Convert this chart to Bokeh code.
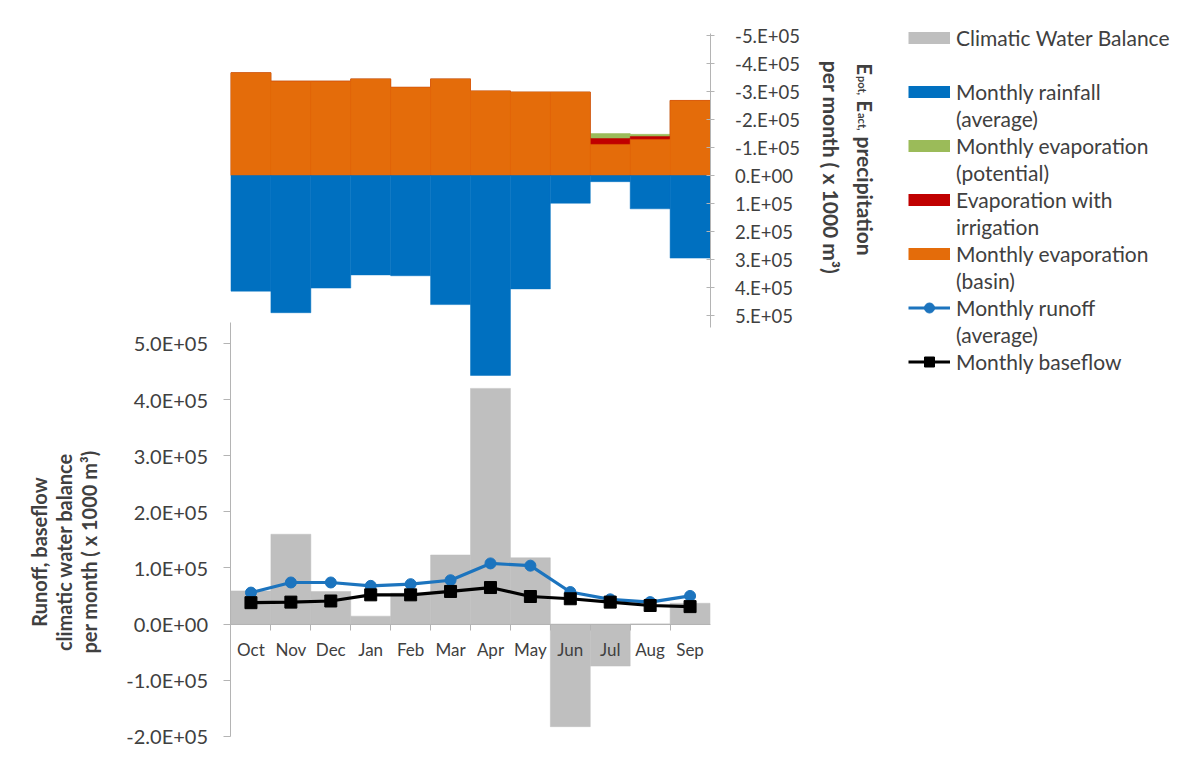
import math
from bokeh.plotting import figure
from bokeh.models import Range1d, LinearAxis, FixedTicker, Legend, LegendItem, Label
from bokeh.embed import file_html
from bokeh.resources import INLINE

# ---------------- data (x 1000 m3) ----------------
months = ["Oct", "Nov", "Dec", "Jan", "Feb", "Mar", "Apr", "May", "Jun", "Jul", "Aug", "Sep"]

# upper chart (precipitation downward, evaporation upward / negative)
rainfall = [4.13e5, 4.90e5, 4.02e5, 3.55e5, 3.58e5, 4.61e5, 7.14e5, 4.05e5, 0.99e5, 0.22e5, 1.19e5, 2.95e5]
evap_basin = [3.67e5, 3.37e5, 3.37e5, 3.45e5, 3.15e5, 3.45e5, 3.02e5, 2.98e5, 2.98e5, 1.11e5, 1.29e5, 2.68e5]
evap_irrigation = [3.67e5, 3.37e5, 3.37e5, 3.45e5, 3.15e5, 3.45e5, 3.02e5, 2.98e5, 2.98e5, 1.32e5, 1.39e5, 2.68e5]
evap_potential = [3.67e5, 3.37e5, 3.37e5, 3.45e5, 3.15e5, 3.45e5, 3.02e5, 2.98e5, 2.98e5, 1.50e5, 1.47e5, 2.68e5]

# lower chart
water_balance = [0.59e5, 1.60e5, 0.58e5, 0.14e5, 0.55e5, 1.23e5, 4.20e5, 1.18e5, -1.83e5, -0.75e5, 0.0, 0.37e5]
runoff = [0.56e5, 0.74e5, 0.74e5, 0.68e5, 0.71e5, 0.78e5, 1.08e5, 1.04e5, 0.57e5, 0.44e5, 0.39e5, 0.50e5]
baseflow = [0.38e5, 0.39e5, 0.41e5, 0.52e5, 0.52e5, 0.58e5, 0.65e5, 0.49e5, 0.45e5, 0.39e5, 0.33e5, 0.31e5]

left_ticks = [-2e5, -1e5, 0, 1e5, 2e5, 3e5, 4e5, 5e5]
left_tick_labels = ["-2.0E+05", "-1.0E+05", "0.0E+00", "1.0E+05", "2.0E+05", "3.0E+05", "4.0E+05", "5.0E+05"]
right_ticks = [-5e5, -4e5, -3e5, -2e5, -1e5, 0, 1e5, 2e5, 3e5, 4e5, 5e5]
right_tick_labels = ["-5.E+05", "-4.E+05", "-3.E+05", "-2.E+05", "-1.E+05", "0.E+00",
                     "1.E+05", "2.E+05", "3.E+05", "4.E+05", "5.E+05"]

# ---------------- styling ----------------
FONT = "Lato"
TXT = "#404040"
AXC = "#B4B4B4"
C_GRAY = "#BFBFBF"
C_BLUE = "#0070C0"
C_GREEN = "#9BBB59"
C_RED = "#C00000"
C_ORANGE = "#E46C0A"
C_RUNOFF = "#1C74BE"

W, H = 1190, 755
n = len(months)
xc = [i + 0.5 for i in range(n)]
edges = [float(i) for i in range(1, n)]

# the plotting frame covers the whole canvas; axes are pinned inside it
p = figure(width=W, height=H,
           x_range=Range1d(-5.774, 24.036), y_range=Range1d(-2.344e5, 11.114e5),
           output_backend="svg", toolbar_location=None,
           min_border_left=0, min_border_right=0, min_border_top=0, min_border_bottom=0)
p.extra_y_ranges = {"top": Range1d(start=20.714e5, end=-6.25e5)}
p.outline_line_color = None
p.xgrid.visible = False
p.ygrid.visible = False

# ---- lower chart ----
r_cwb = p.vbar(x=xc, width=1, bottom=0, top=water_balance, fill_color=C_GRAY, line_color=C_GRAY, line_width=0.5)
r_run_l = p.line(xc, runoff, line_color=C_RUNOFF, line_width=3.2)
r_run_m = p.scatter(xc, runoff, marker="circle", size=11, fill_color=C_RUNOFF, line_color=C_RUNOFF)
r_base_l = p.line(xc, baseflow, line_color="black", line_width=3.2)
r_base_m = p.scatter(xc, baseflow, marker="square", size=12, fill_color="black", line_color="black")

# ---- upper chart ----
r_pot = p.vbar(x=xc, width=1, bottom=0, top=[-v for v in evap_potential], y_range_name="top",
               fill_color=C_GREEN, line_color=C_GREEN, line_width=0.5)
r_irr = p.vbar(x=xc, width=1, bottom=0, top=[-v for v in evap_irrigation], y_range_name="top",
               fill_color=C_RED, line_color=C_RED, line_width=0.5)
r_bas = p.vbar(x=xc, width=1, bottom=0, top=[-v for v in evap_basin], y_range_name="top",
               fill_color=C_ORANGE, line_color=C_ORANGE, line_width=0.5)
r_rain = p.vbar(x=xc, width=1, bottom=0, top=rainfall, y_range_name="top",
                fill_color=C_BLUE, line_color=C_BLUE, line_width=0.5)

# legend swatches: hidden copies of the series, shown only in the legend as 12 px bands
def swatch(values, color, rng="default"):
    return p.line(x=xc, y=values, y_range_name=rng, line_color=color, line_width=12,
                  line_cap="butt", visible=False)

s_cwb = swatch(water_balance, C_GRAY)
s_rain = swatch(rainfall, C_BLUE, "top")
s_pot = swatch(evap_potential, C_GREEN, "top")
s_irr = swatch(evap_irrigation, C_RED, "top")
s_bas = swatch(evap_basin, C_ORANGE, "top")
r_blank = p.line(x=[], y=[], line_alpha=0)

# ---- axes ----
xa = p.xaxis[0]
xa.ticker = FixedTicker(ticks=xc, minor_ticks=edges)
xa.major_label_overrides = {x: m for x, m in zip(xc, months)}
xa.fixed_location = 0
xa.bounds = (0, n)
xa.axis_line_color = AXC
xa.major_tick_line_color = None
xa.major_tick_out = 0
xa.major_tick_in = 0
xa.minor_tick_line_color = AXC
xa.minor_tick_out = 6
xa.minor_tick_in = 0
xa.major_label_standoff = 9
xa.major_label_text_font = FONT
xa.major_label_text_font_size = "17px"
xa.major_label_text_color = TXT

ya = p.yaxis[0]
ya.ticker = FixedTicker(ticks=left_ticks)
ya.major_label_overrides = {t: s for t, s in zip(left_ticks, left_tick_labels)}
ya.fixed_location = 0
ya.bounds = (-2e5, 5.37e5)
ya.axis_line_color = AXC
ya.major_tick_line_color = AXC
ya.major_tick_out = 7
ya.major_tick_in = 0
ya.minor_tick_line_color = None
ya.major_label_standoff = 16
ya.major_label_text_font = FONT
ya.major_label_text_font_size = "20px"
ya.major_label_text_color = TXT

ra = LinearAxis(y_range_name="top", ticker=FixedTicker(ticks=right_ticks), bounds=(-5.07e5, 5.43e5))
ra.fixed_location = n
ra.major_label_overrides = {t: s for t, s in zip(right_ticks, right_tick_labels)}
ra.axis_line_color = AXC
ra.major_tick_line_color = AXC
ra.major_tick_out = 4
ra.major_tick_in = 4
ra.minor_tick_line_color = None
ra.major_label_standoff = 21
ra.major_label_text_font = FONT
ra.major_label_text_font_size = "18.5px"
ra.major_label_text_color = TXT
p.add_layout(ra, "right")

# ---- axis titles ----
p.add_layout(Label(x=0, y=0, x_offset=-167, y_offset=72,
                   text="Runoff, baseflow\nclimatic water balance\nper month ( x 1000 m\u00b3)",
                   angle=math.pi / 2, text_align="center", text_baseline="middle",
                   text_font=FONT, text_font_style="bold", text_font_size="20px",
                   text_color=TXT, text_line_height=1.05))

# right title, rotated clockwise, built from pieces for the subscripts
BIG, SUB = "20px", "11px"
line1 = [("E", BIG, 0, 0), ("pot,", SUB, 12.5, -3), ("E", BIG, 37, 0), ("act,", SUB, 49.5, -3),
         ("precipitation", "21px", 73, 0)]
for txt, size, d, dx in line1:
    p.add_layout(Label(x=n, y=0, y_range_name="top", x_offset=155 + dx, y_offset=112 - d,
                       text=txt, angle=-math.pi / 2, text_align="left", text_baseline="alphabetic",
                       text_font=FONT, text_font_style="bold", text_font_size=size, text_color=TXT))
p.add_layout(Label(x=n, y=0, y_range_name="top", x_offset=121, y_offset=8,
                   text="per month ( x 1000 m\u00b3)", angle=-math.pi / 2, text_align="center",
                   text_baseline="alphabetic", text_font=FONT, text_font_style="bold",
                   text_font_size="21px", text_color=TXT))

# ---- legend (one row per text line) ----
items = [
    LegendItem(label="Climatic Water Balance", renderers=[s_cwb]),
    LegendItem(label=" ", renderers=[r_blank]),
    LegendItem(label="Monthly rainfall", renderers=[s_rain]),
    LegendItem(label="(average)", renderers=[r_blank]),
    LegendItem(label="Monthly evaporation", renderers=[s_pot]),
    LegendItem(label="(potential)", renderers=[r_blank]),
    LegendItem(label="Evaporation with", renderers=[s_irr]),
    LegendItem(label="irrigation", renderers=[r_blank]),
    LegendItem(label="Monthly evaporation", renderers=[s_bas]),
    LegendItem(label="(basin)", renderers=[r_blank]),
    LegendItem(label="Monthly runoff", renderers=[r_run_l, r_run_m]),
    LegendItem(label="(average)", renderers=[r_blank]),
    LegendItem(label="Monthly baseflow", renderers=[r_base_l, r_base_m]),
]
legend = Legend(items=items, location=(908, 380), glyph_width=42, glyph_height=25,
                label_height=27, label_standoff=6, spacing=0, padding=0, margin=0,
                border_line_color=None, background_fill_alpha=0, inactive_fill_alpha=0,
                label_text_font=FONT, label_text_font_size="21px", label_text_color=TXT)
p.add_layout(legend)

open("out.html", "w").write(file_html(p, INLINE))
